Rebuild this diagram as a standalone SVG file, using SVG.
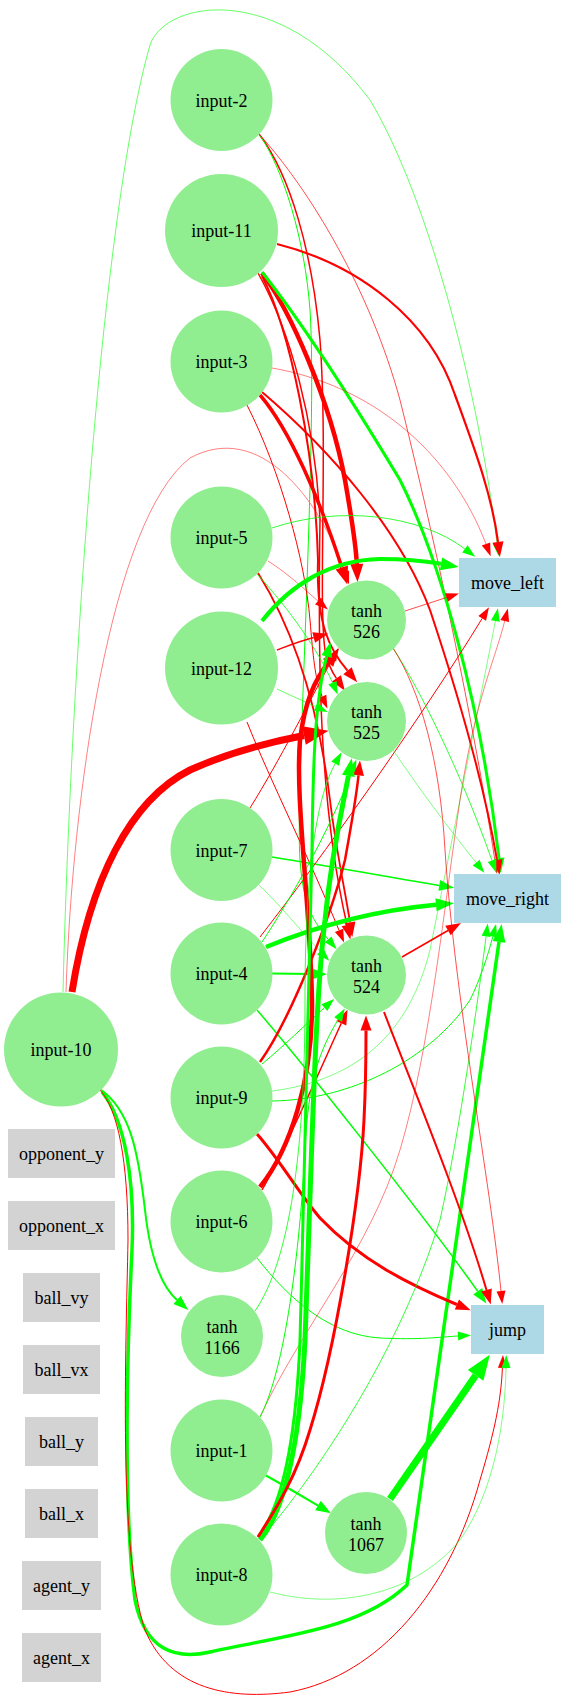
<svg xmlns="http://www.w3.org/2000/svg" width="566" height="1703" viewBox="0 0 566 1703" font-family="'Liberation Serif', 'Times New Roman', Times, serif">
<style>
.n{fill:#90ee90}
.o{fill:#add8e6}
.k{fill:#d3d3d3}
.t{font-family:'Liberation Serif','Times New Roman',Times,serif;font-size:18px;fill:#000;text-anchor:middle}
.r{fill:none;stroke:#ff0000}
.g{fill:none;stroke:#00ff00}
</style>
<defs>
<marker id="rs" markerUnits="userSpaceOnUse" viewBox="-2 -12 30 24" markerWidth="30" markerHeight="24" refX="0" refY="0" orient="auto"><path d="M0,-4.5L13,0L0,4.5z" fill="#ff0000"/></marker>
<marker id="rm" markerUnits="userSpaceOnUse" viewBox="-2 -12 30 24" markerWidth="30" markerHeight="24" refX="0" refY="0" orient="auto"><path d="M0,-5.5L15,0L0,5.5z" fill="#ff0000"/></marker>
<marker id="rl" markerUnits="userSpaceOnUse" viewBox="-2 -12 30 24" markerWidth="30" markerHeight="24" refX="0" refY="0" orient="auto"><path d="M0,-6.5L18,0L0,6.5z" fill="#ff0000"/></marker>
<marker id="rx" markerUnits="userSpaceOnUse" viewBox="-2 -12 30 24" markerWidth="30" markerHeight="24" refX="0" refY="0" orient="auto"><path d="M0,-9.5L25,0L0,9.5z" fill="#ff0000"/></marker>
<marker id="gs" markerUnits="userSpaceOnUse" viewBox="-2 -12 30 24" markerWidth="30" markerHeight="24" refX="0" refY="0" orient="auto"><path d="M0,-4.5L13,0L0,4.5z" fill="#00ff00"/></marker>
<marker id="gm" markerUnits="userSpaceOnUse" viewBox="-2 -12 30 24" markerWidth="30" markerHeight="24" refX="0" refY="0" orient="auto"><path d="M0,-5.5L15,0L0,5.5z" fill="#00ff00"/></marker>
<marker id="gl" markerUnits="userSpaceOnUse" viewBox="-2 -12 30 24" markerWidth="30" markerHeight="24" refX="0" refY="0" orient="auto"><path d="M0,-6.5L18,0L0,6.5z" fill="#00ff00"/></marker>
<marker id="gx" markerUnits="userSpaceOnUse" viewBox="-2 -12 30 24" markerWidth="30" markerHeight="24" refX="0" refY="0" orient="auto"><path d="M0,-9.5L25,0L0,9.5z" fill="#00ff00"/></marker>
</defs>
<g id="connectors">
<path class="g" stroke-width="0.6" marker-end="url(#gs)" d="M63,992 C70,700 100,220 150,45 C165,0 280,-20 370,100 C430,200 480,400 497,543"/>
<path class="r" stroke-width="0.5" marker-end="url(#rs)" d="M66,992 C72,800 110,520 190,458 C260,420 320,500 344.8,572"/>
<path class="r" stroke-width="7" marker-end="url(#rx)" d="M72,992 C90,880 130,800 190,770 C230,752 270,742 304,735.5"/>
<path class="g" stroke-width="2" marker-end="url(#gm)" d="M100,1089 C130,1110 138,1150 145,1210 C150,1255 160,1285 177,1300"/>
<path class="g" stroke-width="3.5" marker-end="url(#gl)" d="M102,1092 C125,1120 135,1180 132,1250 C128,1330 122,1500 135,1600 C145,1650 175,1660 210,1652 C280,1636 360,1630 407,1585 L499,941.8"/>
<path class="r" stroke-width="1" marker-end="url(#rs)" d="M100,1090 C118,1110 128,1160 128,1240 C126,1350 118,1550 145,1630 C170,1690 230,1700 290,1692 C380,1675 450,1590 480,1480 C495,1430 501,1400 502.4,1368"/>
<path class="r" stroke-width="1.5" marker-end="url(#rm)" d="M259,134 C290,175 312,250 320,340 C328,450 318,600 325,650 C328,665 332,672 336.4,678.4"/>
<path class="g" stroke-width="1" marker-end="url(#gs)" d="M259,134 C283,168 305,240 310,310 C318,430 295,800 300,860 C303,900 310,918 328.2,939.3"/>
<path class="r" stroke-width="0.7" marker-end="url(#rs)" d="M259,134 C310,190 370,290 400,400 C430,520 470,700 495,861"/>
<path class="r" stroke-width="2.2" marker-end="url(#rm)" d="M277,244 C360,265 430,320 455,395 C475,450 492,495 498,542"/>
<path class="r" stroke-width="4.5" marker-end="url(#rl)" d="M262,273 C290,310 330,400 345,480 C352,520 356,545 356.8,564"/>
<path class="r" stroke-width="2" marker-end="url(#rm)" d="M262,276 C290,330 315,450 318,560 C316,625 330,650 347.5,670.7"/>
<path class="r" stroke-width="1.5" marker-end="url(#rm)" d="M258,273 C290,330 315,420 320,520 C318,650 318,800 347,925"/>
<path class="g" stroke-width="3" marker-end="url(#gm)" d="M262,272 C300,320 340,380 400,480 C440,560 480,700 499,858.1"/>
<path class="r" stroke-width="3.5" marker-end="url(#rl)" d="M260,395 C290,430 320,500 341.8,567.4"/>
<path class="r" stroke-width="0.5" marker-end="url(#rs)" d="M272,368 C370,385 450,450 486,544"/>
<path class="r" stroke-width="2" marker-end="url(#rm)" d="M262,392 C330,450 400,530 430,610 C460,700 485,790 497,860"/>
<path class="r" stroke-width="1" marker-end="url(#rs)" d="M247,405 C280,470 305,560 310,620 C313,655 315,680 322.2,696.6"/>
<path class="g" stroke-width="0.8" marker-end="url(#gs)" d="M272,528 C340,505 420,515 464.9,548.9"/>
<path class="r" stroke-width="0.5" marker-end="url(#rs)" d="M268,561 C290,575 305,590 318,601"/>
<path class="r" stroke-width="1.8" marker-end="url(#rm)" d="M258,573 C300,640 320,720 330,800 C336,850 345,890 350,922.3"/>
<path class="g" stroke-width="0.8" marker-end="url(#gs)" d="M257,574 C290,610 318,650 332.5,682.7"/>
<path class="g" stroke-width="4" marker-end="url(#gl)" d="M262,621 C290,585 330,560 380,559 C405,559 425,561 441,563.8"/>
<path class="r" stroke-width="1.5" marker-end="url(#rm)" d="M277,650 C290,645 300,641 313.7,637.5"/>
<path class="g" stroke-width="0.6" marker-end="url(#gs)" d="M277,689 C290,695 303,701 315.8,706.7"/>
<path class="r" stroke-width="1" marker-end="url(#rs)" d="M247,722 C270,780 310,860 339.1,930.4"/>
<path class="g" stroke-width="1.5" marker-end="url(#gm)" d="M272,857 C340,868 400,879 439.3,885.4"/>
<path class="r" stroke-width="1" marker-end="url(#rs)" d="M250,808 C280,760 310,700 332.2,659.4"/>
<path class="g" stroke-width="0.5" marker-end="url(#gs)" d="M259,885 C280,905 300,930 320.3,951.4"/>
<path class="g" stroke-width="4.5" marker-end="url(#gl)" d="M266,947 C320,925 380,910 436,904.8"/>
<path class="g" stroke-width="2" marker-end="url(#gm)" d="M272,973.5 L312,974"/>
<path class="g" stroke-width="1.5" marker-end="url(#gm)" d="M257,1010 C300,1060 420,1210 477.7,1291.2"/>
<path class="r" stroke-width="1" marker-end="url(#rs)" d="M260,937 C320,860 420,720 482.2,618.4"/>
<path class="g" stroke-width="1" marker-end="url(#gs)" d="M262,942 C290,900 330,830 351.8,771.6"/>
<path class="r" stroke-width="3" marker-end="url(#rm)" d="M257,1134 C280,1160 300,1195 320,1218 C360,1260 410,1285 456.9,1304.5"/>
<path class="r" stroke-width="2.5" marker-end="url(#rm)" d="M260,1062 C290,1020 330,920 345,860 C352,820 356,800 358.5,775.4"/>
<path class="g" stroke-width="1" marker-end="url(#gs)" d="M262,1064 C285,1045 305,1025 324.4,1007.7"/>
<path class="g" stroke-width="1" marker-end="url(#gs)" d="M272,1101 C350,1100 430,1060 470,1000 C480,980 488,955 492.8,936.6"/>
<path class="g" stroke-width="0.5" marker-end="url(#gs)" d="M272,1091 C360,1080 410,1030 430,950 C450,850 480,700 495.4,621"/>
<path class="r" stroke-width="4.5" marker-end="url(#rl)" d="M260,1187 C290,1150 313,1080 312,1000 C310,900 295,800 300,740 C305,700 315,680 328.1,662.9"/>
<path class="g" stroke-width="1" marker-end="url(#gs)" d="M257,1258 C290,1300 330,1335 380,1338 C420,1340 440,1337 458,1336"/>
<path class="r" stroke-width="1.5" marker-end="url(#rm)" d="M262,1190 C285,1150 320,1070 341.3,1023.3"/>
<path class="g" stroke-width="0.8" marker-end="url(#gs)" d="M255,1311 C290,1260 305,1150 305,1000 C305,880 315,800 335.2,763.6"/>
<path class="g" stroke-width="2" marker-end="url(#gm)" d="M265,1475 C285,1486 300,1495 318,1505.6"/>
<path class="r" stroke-width="0.5" marker-end="url(#rs)" d="M260,1417 C300,1330 370,1250 400,1150 C430,1050 445,900 460,800 C475,700 495,660 504.7,621"/>
<path class="g" stroke-width="1" marker-end="url(#gs)" d="M260,1417 C285,1370 300,1250 305,1150 C308,1080 320,1050 338.1,1019.6"/>
<path class="g" stroke-width="5" marker-end="url(#gl)" d="M260,1540 C285,1510 300,1440 305,1340 C312,1150 315,1000 325,920 C332,850 342,810 348.4,775.9"/>
<path class="g" stroke-width="3" marker-end="url(#gm)" d="M258,1537 C283,1505 296,1440 300,1340 C305,1150 310,950 312,850 C313,760 315,700 326.7,656.5"/>
<path class="r" stroke-width="3" marker-end="url(#rm)" d="M258,1537 C275,1510 295,1480 310,1430 C335,1350 360,1200 364,1120 C366,1080 366,1050 366,1030.5"/>
<path class="g" stroke-width="0.8" marker-end="url(#gs)" d="M260,1540 C320,1470 400,1350 440,1220 C460,1130 478,1000 486.1,936.4"/>
<path class="g" stroke-width="0.5" marker-end="url(#gs)" d="M270,1592 C330,1608 410,1600 460,1540 C495,1490 505,1420 506,1368"/>
<path class="g" stroke-width="7" marker-end="url(#gx)" d="M390,1499 L475.6,1375.4"/>
<path class="r" stroke-width="0.7" marker-end="url(#rs)" d="M405,611 L446.5,597.5"/>
<path class="g" stroke-width="0.8" marker-end="url(#gs)" d="M393,648 C420,690 460,770 492,860.6"/>
<path class="r" stroke-width="0.7" marker-end="url(#rs)" d="M393,648 C420,690 440,760 445,850 C455,1000 490,1180 501,1291"/>
<path class="g" stroke-width="0.5" marker-end="url(#gs)" d="M393,750 C420,790 450,830 476.2,862.6"/>
<path class="r" stroke-width="1.5" marker-end="url(#rm)" d="M402,957 L448,930.5"/>
<path class="r" stroke-width="2" marker-end="url(#rm)" d="M384,1012 C410,1080 460,1200 486.5,1290"/>
</g>
<g id="input-2"><circle class="n" cx="221.5" cy="100" r="51"/><text class="t" x="221.5" y="106.5">input-2</text></g>
<g id="input-11"><circle class="n" cx="221.5" cy="230.5" r="56.5"/><text class="t" x="221.5" y="237">input-11</text></g>
<g id="input-3"><circle class="n" cx="221.5" cy="361.5" r="51"/><text class="t" x="221.5" y="368">input-3</text></g>
<g id="input-5"><circle class="n" cx="221.5" cy="537.5" r="51"/><text class="t" x="221.5" y="544">input-5</text></g>
<g id="input-12"><circle class="n" cx="221.5" cy="668" r="56.5"/><text class="t" x="221.5" y="674.5">input-12</text></g>
<g id="input-7"><circle class="n" cx="221.5" cy="850" r="51"/><text class="t" x="221.5" y="856.5">input-7</text></g>
<g id="input-4"><circle class="n" cx="221.5" cy="973.5" r="51"/><text class="t" x="221.5" y="980">input-4</text></g>
<g id="input-9"><circle class="n" cx="221.5" cy="1097.5" r="51"/><text class="t" x="221.5" y="1104">input-9</text></g>
<g id="input-6"><circle class="n" cx="221.5" cy="1221.5" r="51"/><text class="t" x="221.5" y="1228">input-6</text></g>
<g id="tanh-1166"><circle class="n" cx="222" cy="1336" r="41"/><text class="t" x="222" y="1332.7">tanh</text><text class="t" x="222" y="1353.7">1166</text></g>
<g id="input-1"><circle class="n" cx="221.5" cy="1450.5" r="51"/><text class="t" x="221.5" y="1457">input-1</text></g>
<g id="input-8"><circle class="n" cx="221.5" cy="1574.5" r="51"/><text class="t" x="221.5" y="1581">input-8</text></g>
<g id="input-10"><circle class="n" cx="61" cy="1049.5" r="57"/><text class="t" x="61" y="1056">input-10</text></g>
<g id="tanh-526"><circle class="n" cx="366.5" cy="620" r="39.5"/><text class="t" x="366.5" y="616.7">tanh</text><text class="t" x="366.5" y="637.7">526</text></g>
<g id="tanh-525"><circle class="n" cx="366.5" cy="721.5" r="39.5"/><text class="t" x="366.5" y="718.2">tanh</text><text class="t" x="366.5" y="739.2">525</text></g>
<g id="tanh-524"><circle class="n" cx="366.5" cy="975" r="39.5"/><text class="t" x="366.5" y="971.7">tanh</text><text class="t" x="366.5" y="992.7">524</text></g>
<g id="tanh-1067"><circle class="n" cx="366" cy="1533" r="41"/><text class="t" x="366" y="1529.7">tanh</text><text class="t" x="366" y="1550.7">1067</text></g>
<g id="move_left"><rect class="o" x="459" y="558" width="97" height="49"/><text class="t" x="507.5" y="589">move_left</text></g>
<g id="move_right"><rect class="o" x="454" y="874" width="107" height="49"/><text class="t" x="507.5" y="905">move_right</text></g>
<g id="jump"><rect class="o" x="471" y="1305" width="73" height="49"/><text class="t" x="507.5" y="1336">jump</text></g>
<g id="opponent_y"><rect class="k" x="8" y="1129" width="107" height="49"/><text class="t" x="61.5" y="1160">opponent_y</text></g>
<g id="opponent_x"><rect class="k" x="8" y="1201" width="107" height="49"/><text class="t" x="61.5" y="1232">opponent_x</text></g>
<g id="ball_vy"><rect class="k" x="23" y="1273" width="77" height="49"/><text class="t" x="61.5" y="1304">ball_vy</text></g>
<g id="ball_vx"><rect class="k" x="23" y="1345" width="77" height="49"/><text class="t" x="61.5" y="1376">ball_vx</text></g>
<g id="ball_y"><rect class="k" x="25" y="1417" width="73" height="49"/><text class="t" x="61.5" y="1448">ball_y</text></g>
<g id="ball_x"><rect class="k" x="25" y="1489" width="73" height="49"/><text class="t" x="61.5" y="1520">ball_x</text></g>
<g id="agent_y"><rect class="k" x="22" y="1561" width="79" height="49"/><text class="t" x="61.5" y="1592">agent_y</text></g>
<g id="agent_x"><rect class="k" x="22" y="1633" width="79" height="49"/><text class="t" x="61.5" y="1664">agent_x</text></g>
</svg>
